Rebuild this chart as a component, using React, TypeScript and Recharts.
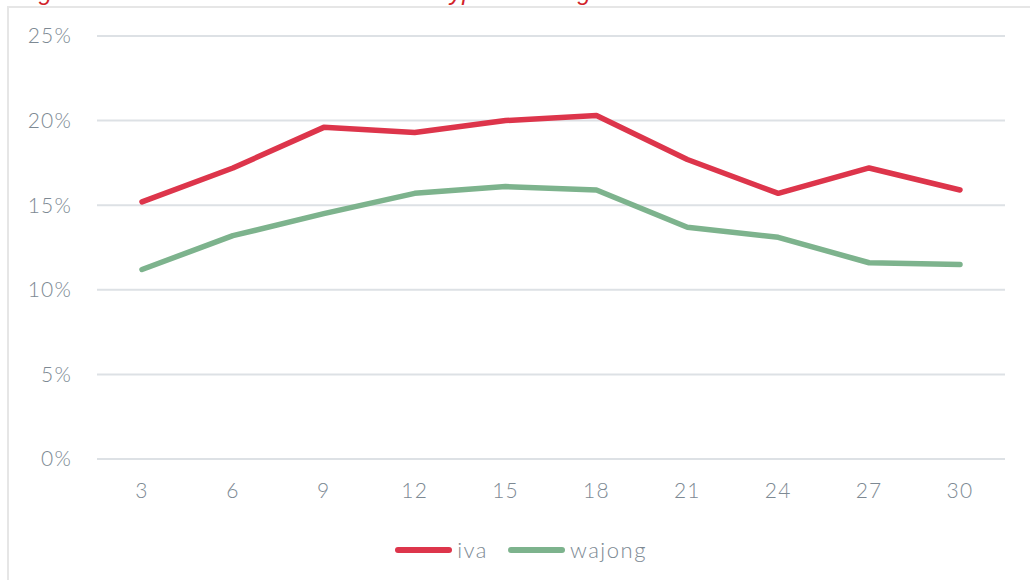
import React from 'react';
import { LineChart, Line, XAxis, YAxis, CartesianGrid, Legend } from 'recharts';

const months = ['3', '6', '9', '12', '15', '18', '21', '24', '27', '30'];
const iva = [0.152, 0.172, 0.196, 0.193, 0.200, 0.203, 0.177, 0.157, 0.172, 0.159];
const wajong = [0.112, 0.132, 0.145, 0.157, 0.161, 0.159, 0.137, 0.131, 0.116, 0.115];
const yTicks = [0, 0.05, 0.1, 0.15, 0.2, 0.25];

const data = months.map((m, i) => ({ month: m, iva: iva[i], wajong: wajong[i] }));

const RED = '#dd354b';
const GREEN = '#7db38d';
const TEXT = '#7d8993';
const FONT = 'Lato, "Open Sans", sans-serif';

const legendItems = [
  { key: 'iva', color: RED },
  { key: 'wajong', color: GREEN },
];

const LegendContent = () => (
  <div style={{ display: 'flex', justifyContent: 'center', paddingTop: 27, paddingLeft: 20, fontFamily: FONT, fontSize: 22, fontWeight: 300, letterSpacing: 1.5, color: TEXT }}>
    {legendItems.map((it, idx) => (
      <div key={it.key} style={{ display: 'flex', alignItems: 'center', marginRight: idx === 0 ? 20 : 0 }}>
        <div style={{ width: 57, height: 6, borderRadius: 3, background: it.color, marginRight: 5 }} />
        <span>{it.key}</span>
      </div>
    ))}
  </div>
);

const tickStyle = { fill: TEXT, fontSize: 21, fontFamily: FONT, fontWeight: 300, letterSpacing: 1.2 };

export default function App() {
  return (
    <div style={{ position: 'absolute', left: 0, top: 0, width: 1030, height: 580, background: '#fff', overflow: 'hidden' }}>
      <div
        style={{
          position: 'absolute',
          left: 0,
          top: -20,
          fontFamily: '"Liberation Sans", sans-serif',
          fontStyle: 'italic',
          fontSize: 24,
          lineHeight: '24px',
          letterSpacing: 0.4,
          color: '#d2232a',
          whiteSpace: 'nowrap',
          paddingLeft: 18,
        }}
      >
        Figuur 4 Werkenden na instroom naar type uitkering
      </div>
      <div
        style={{
          position: 'absolute',
          left: 7,
          top: 6,
          width: 1030,
          height: 580,
          borderLeft: '2px solid #e6e6e6',
          borderTop: '2px solid #e6e6e6',
        }}
      />
      <div style={{ position: 'absolute', left: 0, top: 0 }}>
        <LineChart width={1030} height={580} data={data} margin={{ top: 36, right: 25, bottom: 10, left: 17 }}>
          <CartesianGrid vertical={false} stroke="#dde1e5" strokeWidth={2} />
          <XAxis
            dataKey="month"
            axisLine={false}
            tickLine={false}
            tickSize={0}
            tickMargin={24}
            height={50}
            padding={{ left: 45, right: 45 }}
            tick={tickStyle}
            interval={0}
          />
          <YAxis
            domain={[0, 0.25]}
            ticks={yTicks}
            width={80}
            axisLine={false}
            tickLine={false}
            tickSize={0}
            tickMargin={25}
            tickFormatter={(v: number) => `${Math.round(v * 100)}%`}
            tick={tickStyle}
          />
          <Legend verticalAlign="bottom" height={61} content={<LegendContent />} />
          <Line dataKey="iva" stroke={RED} strokeWidth={5.5} dot={false} isAnimationActive={false} strokeLinejoin="round" strokeLinecap="round" />
          <Line dataKey="wajong" stroke={GREEN} strokeWidth={5.5} dot={false} isAnimationActive={false} strokeLinejoin="round" strokeLinecap="round" />
        </LineChart>
      </div>
    </div>
  );
}
